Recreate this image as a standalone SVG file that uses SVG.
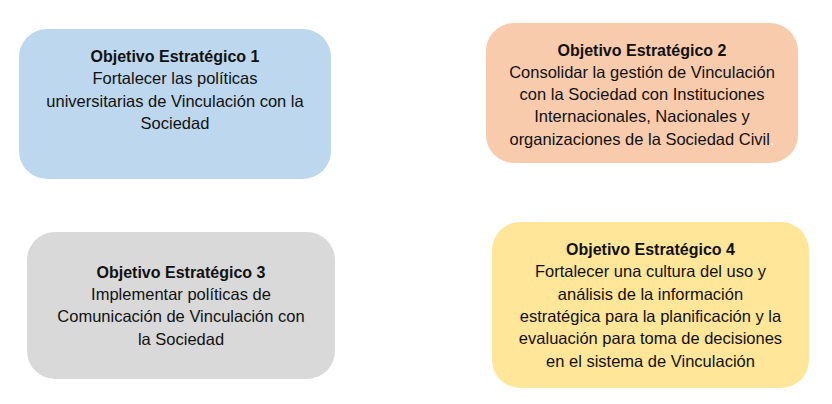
<svg xmlns="http://www.w3.org/2000/svg" width="832" height="404" viewBox="0 0 832 404">
<style>
.box{stroke:none}
.t{font-family:"Liberation Sans",Arial,sans-serif;font-size:16.5px;fill:#111;text-anchor:middle}
.b{font-weight:bold;font-size:16px}
</style>
<rect width="832" height="404" fill="#ffffff"/>
<g id="obj1">
<rect class="box" x="19" y="29" width="312" height="150" rx="28" fill="#BDD7EE"/>
<text class="t b" x="175" y="62">Objetivo Estratégico 1</text>
<text class="t" x="175" y="84.3">Fortalecer las políticas</text>
<text class="t" x="175" y="106.6">universitarias de Vinculación con la</text>
<text class="t" x="175" y="128.9">Sociedad</text>
</g>
<g id="obj2">
<rect class="box" x="486" y="23" width="312" height="140" rx="28" fill="#F8CBAD"/>
<text class="t b" x="642" y="55.5">Objetivo Estratégico 2</text>
<text class="t" x="642" y="77.8">Consolidar la gestión de Vinculación</text>
<text class="t" x="642" y="100.1">con la Sociedad con Instituciones</text>
<text class="t" x="642" y="122.4">Internacionales, Nacionales y</text>
<text class="t" x="642" y="144.7">organizaciones de la Sociedad Civil<tspan fill="#ffffff">.</tspan></text>
</g>
<g id="obj3">
<rect class="box" x="27" y="232" width="308" height="147" rx="28" fill="#D9D9D9"/>
<text class="t b" x="181" y="277.7">Objetivo Estratégico 3</text>
<text class="t" x="181" y="300">Implementar políticas de</text>
<text class="t" x="181" y="322.3">Comunicación de Vinculación con</text>
<text class="t" x="181" y="344.6">la Sociedad</text>
</g>
<g id="obj4">
<rect class="box" x="492" y="222" width="317" height="166" rx="28" fill="#FFE699"/>
<text class="t b" x="650.5" y="255">Objetivo Estratégico 4</text>
<text class="t" x="650.5" y="277.3">Fortalecer una cultura del uso y</text>
<text class="t" x="650.5" y="299.6">análisis de la información</text>
<text class="t" x="650.5" y="321.9">estratégica para la planificación y la</text>
<text class="t" x="650.5" y="344.2">evaluación para toma de decisiones</text>
<text class="t" x="650.5" y="366.5">en el sistema de Vinculación</text>
</g>
<g id="connectors"></g>
</svg>
